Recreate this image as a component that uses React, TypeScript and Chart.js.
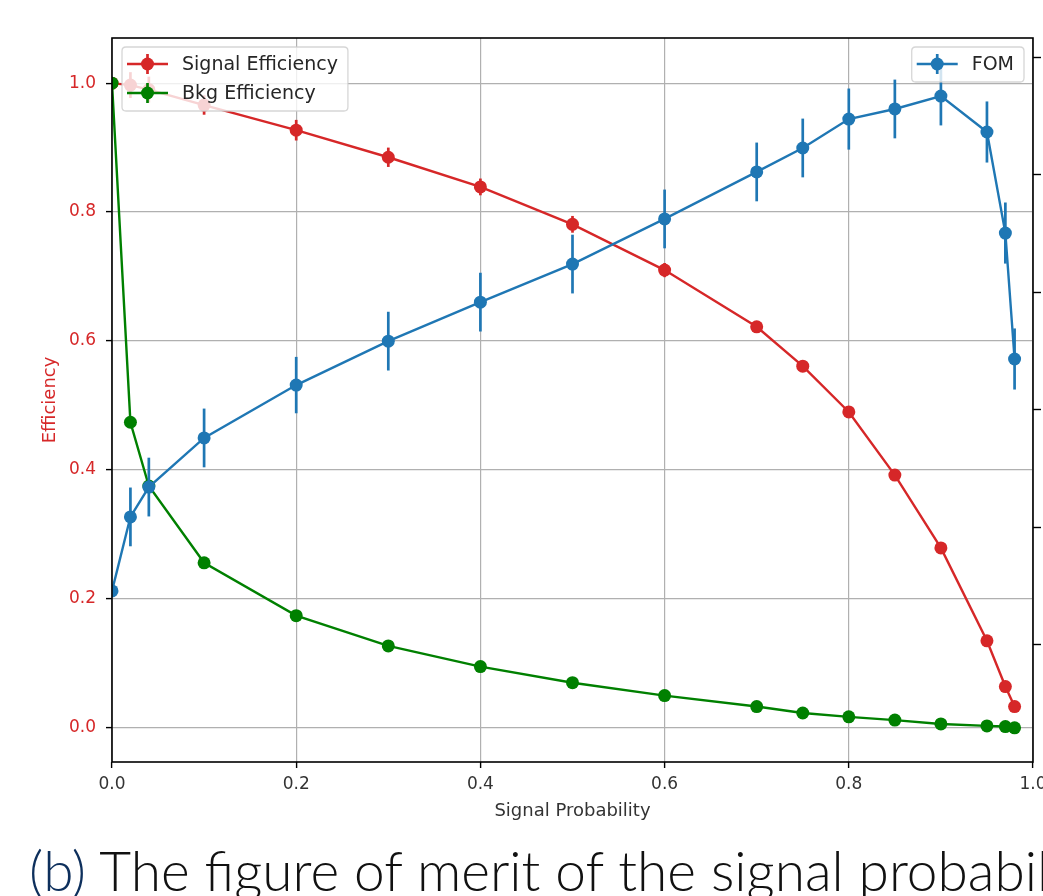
import React, { useEffect, useRef } from 'react';
import { Chart, registerables } from 'chart.js';

Chart.register(...registerables);

// ---------- data ----------
const xValues = [0, 0.02, 0.04, 0.1, 0.2, 0.3, 0.4, 0.5, 0.6, 0.7, 0.75, 0.8, 0.85, 0.9, 0.95, 0.97, 0.98];
const signalEff = [1.0, 0.997, 0.99, 0.966, 0.927, 0.885, 0.839, 0.781, 0.71, 0.622, 0.561, 0.49, 0.392, 0.279, 0.135, 0.064, 0.033];
const signalErr = [0, 0.02, 0.02, 0.015, 0.016, 0.015, 0.013, 0.013, 0.011, 0.008, 0.006, 0.005, 0.005, 0.004, 0.004, 0.003, 0.003];
const bkgEff = [1.0, 0.474, 0.375, 0.256, 0.174, 0.127, 0.095, 0.07, 0.05, 0.033, 0.023, 0.017, 0.012, 0.006, 0.003, 0.002, 0.0];
const bkgErr = [0, 0.004, 0.004, 0.003, 0.002, 0.002, 0.002, 0.001, 0.001, 0.001, 0.001, 0.001, 0.001, 0.001, 0.0, 0.0, 0.0];
const fom = [1.23, 1.545, 1.672, 1.881, 2.106, 2.293, 2.459, 2.621, 2.813, 3.013, 3.115, 3.238, 3.281, 3.336, 3.183, 2.753, 2.217];
const fomErr = [0, 0.125, 0.125, 0.125, 0.12, 0.125, 0.125, 0.125, 0.125, 0.125, 0.125, 0.13, 0.125, 0.125, 0.13, 0.13, 0.13];

const xTicks = [0, 0.2, 0.4, 0.6, 0.8, 1.0];
const yTicks = [0, 0.2, 0.4, 0.6, 0.8, 1.0];
const y1Ticks = [1.0, 1.5, 2.0, 2.5, 3.0, 3.5];

const xRange = [0, 1.0];
const yRange = [-0.053, 1.07];
const y1Range = [0.502, 3.583];

const seriesLabels = ['Signal Efficiency', 'Bkg Efficiency', 'FOM'];
const xTitle = 'Signal Probability';
const yTitle = 'Efficiency';
const captionLead = '(b)';
const captionText = ' The figure of merit of the signal probability';

// ---------- style ----------
const RED = '#d62728';
const GREEN = '#008000';
const BLUE = '#1f77b4';
const FONT = "'DejaVu Sans', sans-serif";
const W = 1043;
const H = 830;
const LINE_W = 2.4;
const PT_R = 6.5;

const errorBarPlugin = {
  id: 'errorBars',
  beforeDatasetDraw(chart: any, args: any) {
    const ds = chart.data.datasets[args.index];
    const errs: number[] | undefined = ds.errorBars;
    if (!errs) return;
    const meta = args.meta;
    const xs = chart.scales[meta.xAxisID];
    const ys = chart.scales[meta.yAxisID];
    const ctx = chart.ctx;
    const a = chart.chartArea;
    ctx.save();
    ctx.beginPath();
    ctx.rect(a.left, a.top, a.right - a.left, a.bottom - a.top);
    ctx.clip();
    ctx.strokeStyle = ds.borderColor;
    ctx.lineWidth = LINE_W + 0.3;
    ds.data.forEach((p: any, i: number) => {
      const e = errs[i];
      if (!e) return;
      const x = xs.getPixelForValue(p.x);
      ctx.beginPath();
      ctx.moveTo(x, ys.getPixelForValue(p.y - e));
      ctx.lineTo(x, ys.getPixelForValue(p.y + e));
      ctx.stroke();
    });
    ctx.restore();
  },
};

const framePlugin = {
  id: 'frame',
  afterDatasetsDraw(chart: any) {
    const { ctx, chartArea: a } = chart;
    ctx.save();
    ctx.strokeStyle = '#000';
    ctx.lineWidth = 1.6;
    ctx.strokeRect(a.left, a.top, a.right - a.left, a.bottom - a.top);
    ctx.restore();
  },
};

function roundRect(ctx: CanvasRenderingContext2D, x: number, y: number, w: number, h: number, r: number) {
  ctx.beginPath();
  ctx.moveTo(x + r, y);
  ctx.lineTo(x + w - r, y);
  ctx.quadraticCurveTo(x + w, y, x + w, y + r);
  ctx.lineTo(x + w, y + h - r);
  ctx.quadraticCurveTo(x + w, y + h, x + w - r, y + h);
  ctx.lineTo(x + r, y + h);
  ctx.quadraticCurveTo(x, y + h, x, y + h - r);
  ctx.lineTo(x, y + r);
  ctx.quadraticCurveTo(x, y, x + r, y);
  ctx.closePath();
}

function drawLegend(ctx: CanvasRenderingContext2D, items: { label: string; color: string }[], x: number, y: number, alignRight: boolean) {
  ctx.save();
  ctx.font = `19px ${FONT}`;
  const maxText = Math.max(...items.map((it) => ctx.measureText(it.label).width));
  const w = 60 + maxText + 10;
  const rowH = 29;
  const h = rowH * items.length + 6;
  const left = alignRight ? x - w : x;
  roundRect(ctx, left, y, w, h, 4);
  ctx.fillStyle = 'rgba(255,255,255,0.8)';
  ctx.fill();
  ctx.strokeStyle = 'rgba(204,204,204,0.8)';
  ctx.lineWidth = 1.3;
  ctx.stroke();
  items.forEach((it, i) => {
    const cy = y + 17 + i * rowH;
    ctx.strokeStyle = it.color;
    ctx.fillStyle = it.color;
    ctx.lineWidth = LINE_W + 0.3;
    ctx.beginPath();
    ctx.moveTo(left + 5, cy);
    ctx.lineTo(left + 46, cy);
    ctx.stroke();
    ctx.beginPath();
    ctx.moveTo(left + 25.5, cy - 10);
    ctx.lineTo(left + 25.5, cy + 10);
    ctx.stroke();
    ctx.beginPath();
    ctx.arc(left + 25.5, cy, PT_R, 0, Math.PI * 2);
    ctx.fill();
    ctx.fillStyle = '#262626';
    ctx.textBaseline = 'middle';
    ctx.textAlign = 'left';
    ctx.fillText(it.label, left + 60, cy + 1);
  });
  ctx.restore();
}

const legendPlugin = {
  id: 'dualLegend',
  afterDraw(chart: any) {
    const { ctx, chartArea: a } = chart;
    drawLegend(ctx, [
      { label: seriesLabels[0], color: RED },
      { label: seriesLabels[1], color: GREEN },
    ], a.left + 10, a.top + 9, false);
    drawLegend(ctx, [{ label: seriesLabels[2], color: BLUE }], a.right - 9, a.top + 9, true);
  },
};

export default function App() {
  const ref = useRef<HTMLCanvasElement>(null);

  useEffect(() => {
    const canvas = ref.current!;
    const pts = (ys: number[]) => xValues.map((x, i) => ({ x, y: ys[i] }));
    const mk = (label: string, data: number[], errs: number[], color: string, axis: string, order: number) => ({
      label,
      data: pts(data),
      errorBars: errs,
      yAxisID: axis,
      borderColor: color,
      backgroundColor: color,
      pointBackgroundColor: color,
      pointBorderColor: color,
      pointRadius: PT_R,
      pointBorderWidth: 0,
      borderWidth: LINE_W,
      tension: 0,
      fill: false,
      clip: 0,
      order,
    });

    const chart = new Chart(canvas, {
      type: 'line',
      data: {
        datasets: [
          mk(seriesLabels[2], fom, fomErr, BLUE, 'y1', 0),
          mk(seriesLabels[1], bkgEff, bkgErr, GREEN, 'y', 1),
          mk(seriesLabels[0], signalEff, signalErr, RED, 'y', 2),
        ] as any,
      },
      options: {
        animation: false,
        responsive: false,
        maintainAspectRatio: false,
        layout: { padding: { top: 38, left: 0, right: 0, bottom: 0 } },
        plugins: { legend: { display: false }, tooltip: { enabled: false } },
        scales: {
          x: {
            type: 'linear',
            position: 'bottom',
            min: xRange[0],
            max: xRange[1],
            afterBuildTicks: (ax: any) => { ax.ticks = xTicks.map((v) => ({ value: v })); },
            afterFit: (ax: any) => {
              ax.height = H - 762;
              ax.paddingLeft = 0;
              ax.paddingRight = 0;
            },
            ticks: {
              callback: (v: any) => Number(v).toFixed(1),
              font: { family: FONT, size: 17 },
              color: '#333',
              padding: 6,
              maxRotation: 0,
            },
            grid: { color: '#b0b0b0', lineWidth: 1.2, tickColor: '#000', tickLength: 6, tickWidth: 1.4 },
            border: { display: false },
            title: { display: true, text: xTitle, font: { family: FONT, size: 18 }, color: '#333', padding: { top: 0, bottom: 8 } },
          },
          y: {
            type: 'linear',
            position: 'left',
            min: yRange[0],
            max: yRange[1],
            afterBuildTicks: (ax: any) => { ax.ticks = yTicks.map((v) => ({ value: v })); },
            afterFit: (ax: any) => { ax.width = 112; ax.paddingTop = 0; ax.paddingBottom = 0; },
            ticks: {
              callback: (v: any) => Number(v).toFixed(1),
              font: { family: FONT, size: 17 },
              color: RED,
              padding: 10,
            },
            grid: { color: '#b0b0b0', lineWidth: 1.2, tickColor: '#000', tickLength: 6, tickWidth: 1.4 },
            border: { display: false },
            title: { display: true, text: yTitle, font: { family: FONT, size: 18 }, color: RED, padding: { top: 40, bottom: 0 } },
          },
          y1: {
            type: 'linear',
            position: 'right',
            min: y1Range[0],
            max: y1Range[1],
            afterBuildTicks: (ax: any) => { ax.ticks = y1Ticks.map((v) => ({ value: v })); },
            afterFit: (ax: any) => { ax.width = W - 1033; ax.paddingTop = 0; ax.paddingBottom = 0; },
            ticks: {
              callback: (v: any) => Number(v).toFixed(1),
              font: { family: FONT, size: 17 },
              color: 'rgba(0,0,0,0)',
              padding: 6,
            },
            grid: { drawOnChartArea: false, tickColor: '#000', tickLength: 8, tickWidth: 1.4 },
            border: { display: false },
          },
        },
      },
      plugins: [errorBarPlugin, framePlugin, legendPlugin],
    } as any);

    return () => chart.destroy();
  }, []);

  return (
    <div style={{ position: 'fixed', left: 0, top: 0, width: W, height: 896, overflow: 'hidden', background: '#fff' }}>
      <canvas ref={ref} width={W} height={H} style={{ position: 'absolute', left: 0, top: 0, width: W, height: H }} />
      <div
        style={{
          position: 'absolute',
          left: 29,
          top: 843,
          whiteSpace: 'nowrap',
          fontFamily: "Lato, 'Open Sans', sans-serif",
          fontWeight: 300,
          fontSize: 55,
          lineHeight: 1,
          color: '#111',
        }}
      >
        <span style={{ color: '#0d2f5c' }}>{captionLead}</span>
        {captionText}
      </div>
    </div>
  );
}
